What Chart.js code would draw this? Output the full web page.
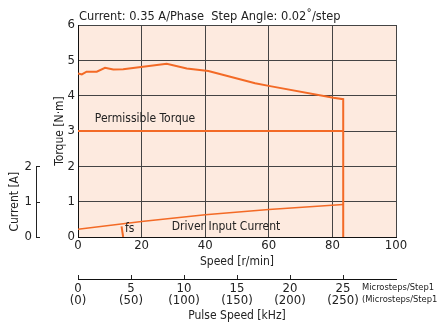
<!DOCTYPE html>
<html>
<head>
<meta charset="utf-8">
<script src="https://cdn.jsdelivr.net/npm/chart.js@4.4.1/dist/chart.umd.min.js"></script>
<style>
  html, body { margin: 0; padding: 0; background: #fff; }
  #wrap { width: 438px; height: 322px; }
</style>
</head>
<body>
<div id="wrap"><canvas id="chart" width="438" height="322"></canvas></div>
<script>
// speed [r/min] vs torque [N·m]
const torqueSpeed = [0, 1.2, 2.7, 5.9, 8.5, 11.1, 14.2, 27.9, 34.2, 41, 55.7, 60.4, 80.3, 83.4, 83.4];
const torqueValues = [4.63, 4.6, 4.68, 4.68, 4.79, 4.74, 4.75, 4.9, 4.77, 4.7, 4.35, 4.27, 3.94, 3.9, 0];
// permissible torque
const permSpeed = [0, 83.4];
const permValues = [3, 3];
// driver input current [A]
const currentSpeed = [0, 20, 40, 60, 83.4];
const currentValues = [0.22, 0.44, 0.63, 0.78, 0.92];
// fs marker
const fsSpeed = [13.7, 14.2];
const fsValues = [0.3, 0];
// pulse speed tick labels
const pulseTicks = [0, 5, 10, 15, 20, 25];
const pulseTicks10 = ["(0)", "(50)", "(100)", "(150)", "(200)", "(250)"];

const FONT = "'Liberation Sans Narrow', 'DejaVu Sans Condensed', sans-serif";
const ORANGE = "#f36a26";
const GRID = "#444";

function pts(xs, ys) {
    return xs.map(function (x, i) { return { x: x, y: ys[i] }; });
}

const extras = {
    id: "extras",
    beforeDraw: function (chart) {
        const ctx = chart.ctx;
        const a = chart.chartArea;
        ctx.save();
        ctx.fillStyle = "#fdeadf";
        ctx.fillRect(a.left, a.top, a.right - a.left, a.bottom - a.top);
        ctx.restore();
    },
    afterDraw: function (chart) {
        const ctx = chart.ctx;
        const a = chart.chartArea;
        const sx = chart.scales.x;
        const sy = chart.scales.y;
        const sc = chart.scales.yCur;
        const sp = chart.scales.x2;
        ctx.save();
        ctx.fillStyle = "#222";
        ctx.textBaseline = "middle";

        // header
        ctx.font = "12.7px " + FONT;
        ctx.textAlign = "left";
        ctx.fillText("Current: 0.35 A/Phase  Step Angle: 0.02\u02da/step", a.left + 1, 17);

        // curve labels
        ctx.font = "12px " + FONT;
        ctx.fillText("Permissible Torque", sx.getPixelForValue(5.3), sy.getPixelForValue(3.33));
        ctx.fillText("Driver Input Current", sx.getPixelForValue(29.5), sc.getPixelForValue(0.3));
        ctx.fillText("fs", sx.getPixelForValue(14.8), sc.getPixelForValue(0.22));

        // current axis line
        const cx = 36;
        ctx.strokeStyle = "#222";
        ctx.lineWidth = 1;
        ctx.beginPath();
        ctx.moveTo(cx + 0.5, sc.getPixelForValue(0));
        ctx.lineTo(cx + 0.5, sc.getPixelForValue(2));
        [0, 1, 2].forEach(function (v) {
            const py = Math.round(sc.getPixelForValue(v)) + 0.5;
            ctx.moveTo(cx, py);
            ctx.lineTo(cx + 4, py);
        });
        ctx.stroke();

        // current axis title
        ctx.save();
        ctx.translate(15, sc.getPixelForValue(1));
        ctx.rotate(-Math.PI / 2);
        ctx.textAlign = "center";
        ctx.font = "12px " + FONT;
        ctx.fillText("Current [A]", 0, 0);
        ctx.restore();

        // pulse axis tick marks (upward)
        ctx.beginPath();
        pulseTicks.forEach(function (v) {
            const px = Math.round(sp.getPixelForValue(v)) + 0.5;
            ctx.moveTo(px, sp.top);
            ctx.lineTo(px, sp.top - 4);
        });
        ctx.stroke();

        // microstep labels
        ctx.font = "9.3px " + FONT;
        ctx.textAlign = "left";
        ctx.fillText("Microsteps/Step1", 362, 288);
        ctx.fillText("(Microsteps/Step10", 362, 300);
        ctx.restore();
    }
};

const chart = new Chart(document.getElementById("chart"), {
    type: "line",
    data: {
        datasets: [
            { data: pts(torqueSpeed, torqueValues), yAxisID: "y", borderColor: ORANGE, borderWidth: 2 },
            { data: pts(permSpeed, permValues), yAxisID: "y", borderColor: ORANGE, borderWidth: 2 },
            { data: pts(currentSpeed, currentValues), yAxisID: "yCur", borderColor: ORANGE, borderWidth: 1.5 },
            { data: pts(fsSpeed, fsValues), yAxisID: "yCur", borderColor: ORANGE, borderWidth: 2 }
        ]
    },
    options: {
        responsive: false,
        animation: false,
        layout: { padding: { top: 25, right: 42, left: 0, bottom: 0 } },
        elements: { point: { radius: 0 }, line: { tension: 0, fill: false } },
        plugins: { legend: { display: false }, tooltip: { enabled: false } },
        scales: {
            x: {
                type: "linear", position: "bottom", min: 0, max: 100,
                afterFit: function (s) { s.height = 42; },
                ticks: { stepSize: 20, color: "#222", padding: 1, font: { family: FONT, size: 13 } },
                grid: { color: GRID, drawTicks: false },
                border: { color: "#111" },
                title: { display: true, text: "Speed [r/min]", color: "#222", padding: { top: 0, bottom: 10 }, font: { family: FONT, size: 12 } }
            },
            x2: {
                type: "linear", position: "bottom", min: 0, max: 30,
                afterFit: function (s) { s.height = 43; },
                afterBuildTicks: function (s) {
                    s.ticks = pulseTicks.map(function (v) { return { value: v }; });
                },
                ticks: {
                    color: "#222", padding: 3, font: { family: FONT, size: 13, lineHeight: 0.95 },
                    callback: function (v) {
                        const i = pulseTicks.indexOf(v);
                        return [String(v), pulseTicks10[i]];
                    }
                },
                grid: { display: false, drawTicks: false },
                border: { color: "#111" },
                title: { display: true, text: "Pulse Speed [kHz]", color: "#222", padding: 0, font: { family: FONT, size: 12, lineHeight: 1 } }
            },
            y: {
                type: "linear", position: "left", min: 0, max: 6,
                afterFit: function (s) { s.width = 30; },
                ticks: { stepSize: 1, color: "#222", padding: 3, font: { family: FONT, size: 13 } },
                grid: { color: GRID, drawTicks: false },
                border: { color: "#111" },
                title: { display: true, text: "Torque [N\u00b7m]", color: "#222", padding: { top: 5, bottom: 0 }, font: { family: FONT, size: 12 } }
            },
            yCur: {
                type: "linear", position: "left", min: 0, max: 6,
                afterFit: function (s) { s.width = 48; },
                afterBuildTicks: function (s) {
                    s.ticks = [0, 1, 2].map(function (v) { return { value: v }; });
                },
                ticks: { color: "#222", padding: 16, font: { family: FONT, size: 13 } },
                grid: { display: false, drawTicks: false },
                border: { display: false }
            }
        }
    },
    plugins: [extras]
});
</script>
</body>
</html>
